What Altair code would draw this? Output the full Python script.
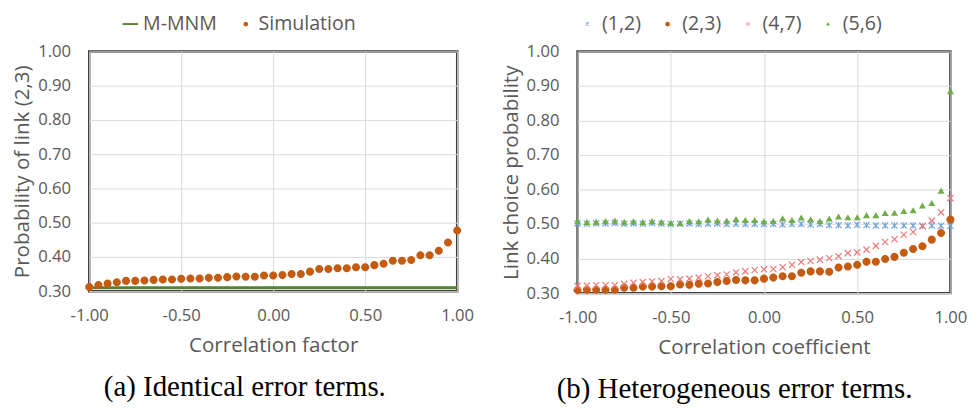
import math
import altair as alt
import pandas as pd

# ---------------- data ----------------
rho = [-1.00, -0.95, -0.90, -0.85, -0.80, -0.75, -0.70, -0.65, -0.60, -0.55,
       -0.50, -0.45, -0.40, -0.35, -0.30, -0.25, -0.20, -0.15, -0.10, -0.05,
       0.00, 0.05, 0.10, 0.15, 0.20, 0.25, 0.30, 0.35, 0.40, 0.45,
       0.50, 0.55, 0.60, 0.65, 0.70, 0.75, 0.80, 0.85, 0.90, 0.95, 1.00]

sim_23 = [0.312, 0.318, 0.322, 0.326, 0.330, 0.330, 0.331, 0.333, 0.334, 0.334,
          0.336, 0.337, 0.337, 0.339, 0.339, 0.341, 0.343, 0.342, 0.342, 0.346,
          0.346, 0.347, 0.350, 0.350, 0.357, 0.365, 0.365, 0.367, 0.367, 0.370,
          0.370, 0.376, 0.380, 0.389, 0.389, 0.391, 0.405, 0.405, 0.418, 0.442, 0.477]

mmnm_x = [-1.00, 1.00]
mmnm_y = [0.31, 0.31]

het_12 = [0.502, 0.501, 0.502, 0.502, 0.503, 0.501, 0.502, 0.501, 0.503, 0.501,
          0.500, 0.501, 0.502, 0.500, 0.501, 0.502, 0.500, 0.501, 0.500, 0.500,
          0.500, 0.500, 0.499, 0.500, 0.500, 0.499, 0.500, 0.497, 0.497, 0.496,
          0.498, 0.497, 0.496, 0.496, 0.496, 0.496, 0.496, 0.495, 0.496, 0.495, 0.495]
het_23 = [0.309, 0.310, 0.310, 0.310, 0.310, 0.316, 0.316, 0.319, 0.319, 0.320,
          0.320, 0.325, 0.324, 0.327, 0.328, 0.332, 0.335, 0.338, 0.337, 0.337,
          0.342, 0.345, 0.349, 0.349, 0.359, 0.363, 0.363, 0.362, 0.374, 0.377,
          0.382, 0.391, 0.391, 0.399, 0.405, 0.417, 0.428, 0.436, 0.455, 0.474, 0.513]
het_47 = [0.321, 0.322, 0.323, 0.323, 0.323, 0.327, 0.330, 0.332, 0.334, 0.335,
          0.341, 0.340, 0.342, 0.345, 0.349, 0.352, 0.354, 0.360, 0.363, 0.367,
          0.369, 0.370, 0.375, 0.382, 0.390, 0.393, 0.397, 0.401, 0.407, 0.416,
          0.418, 0.426, 0.437, 0.448, 0.456, 0.469, 0.477, 0.494, 0.510, 0.534, 0.575]
het_56 = [0.507, 0.505, 0.506, 0.508, 0.509, 0.506, 0.507, 0.505, 0.508, 0.506,
          0.503, 0.502, 0.508, 0.507, 0.512, 0.509, 0.509, 0.514, 0.511, 0.511,
          0.507, 0.508, 0.516, 0.511, 0.518, 0.513, 0.508, 0.515, 0.521, 0.519,
          0.519, 0.525, 0.525, 0.531, 0.532, 0.537, 0.539, 0.553, 0.560, 0.596, 0.884]

left_series = ["M-MNM", "Simulation"]
right_series = ["(1,2)", "(2,3)", "(4,7)", "(5,6)"]

y_ticks = [0.30, 0.40, 0.50, 0.60, 0.70, 0.80, 0.90, 1.00]
x_ticks = [-1.00, -0.50, 0.00, 0.50, 1.00]

# ---------------- styles ----------------
ORANGE = "#C55A11"
GREEN_LINE = "#548235"
GREEN_TRI = "#70AD47"
BLUE = "#6FA3D8"
RED = "#EE7B7B"
GRAY_TXT = "#595959"
SANS = "Open Sans"


def seg_path(segs, t):
    parts = []
    for (x1, y1), (x2, y2) in segs:
        dx, dy = x2 - x1, y2 - y1
        L = math.hypot(dx, dy)
        nx, ny = -dy / L * t, dx / L * t
        pts = [(x1 + nx, y1 + ny), (x2 + nx, y2 + ny), (x2 - nx, y2 - ny), (x1 - nx, y1 - ny)]
        parts.append("M" + "L".join(f"{px:.3f},{py:.3f}" for px, py in pts) + "Z")
    return "".join(parts)


CIRCLE = "M0.3,0A0.3,0.3,0,1,1,-0.3,0A0.3,0.3,0,1,1,0.3,0Z"
LINE = "M-1,-0.12H1V0.12H-1Z"
TRI = "M0,-0.25L0.26,0.2L-0.26,0.2Z"
a = 0.23
XSHAPE = seg_path([((-a, -a), (a, a)), ((-a, a), (a, -a))], 0.045)
ASTER = seg_path([((-a, -a), (a, a)), ((-a, a), (a, -a)), ((0, -a), (0, a))], 0.04)

PT_SIZE = 760
LEG_SYM = 256

left_df = pd.DataFrame({"rho": rho, "p": sim_23, "series": "Simulation"})
line_df = pd.DataFrame({"rho": mmnm_x, "p": mmnm_y})
rows = []
for name, vals in zip(right_series, [het_12, het_23, het_47, het_56]):
    for r, v in zip(rho, vals):
        rows.append({"rho": r, "p": v, "series": name})
right_df = pd.DataFrame(rows)

label_expr = "datum.value < 0 ? '-' + format(-datum.value, '.2f') : format(datum.value, '.2f')"


def x_enc(title):
    return alt.X("rho:Q", scale=alt.Scale(domain=[-1, 1], nice=False, padding=0),
                 axis=alt.Axis(values=x_ticks, labelExpr=label_expr, title=title,
                               labelFlush=False, titlePadding=12, labelPadding=17))


def y_enc(title):
    return alt.Y("p:Q", scale=alt.Scale(domain=[0.3, 1.0], nice=False, zero=False, padding=0),
                 axis=alt.Axis(values=y_ticks, format=".2f", title=title,
                               labelFlush=False, titlePadding=5, labelPadding=19))


W1, H1 = 376, 245
W2, H2 = 381, 247


def legend(x, off, colpad):
    return alt.Legend(title=None, orient="none", legendX=x, legendY=-38,
                      direction="horizontal", symbolSize=LEG_SYM,
                      labelOffset=off, columnPadding=colpad)


line_layer = alt.Chart(line_df).mark_line(color=GREEN_LINE, strokeWidth=3).encode(
    x=x_enc("Correlation factor"), y=y_enc("Probability of link (2,3)"))

sim_layer = alt.Chart(left_df).mark_point(filled=True, opacity=1, size=PT_SIZE, strokeWidth=0).encode(
    x=x_enc("Correlation factor"), y=y_enc("Probability of link (2,3)"),
    color=alt.Color("series:N", scale=alt.Scale(domain=left_series, range=[GREEN_LINE, ORANGE]),
                    legend=legend(32, 3, 19)),
    shape=alt.Shape("series:N", scale=alt.Scale(domain=left_series, range=[LINE, CIRCLE]),
                    legend=legend(32, 3, 19)),
)

left = alt.layer(line_layer, sim_layer).properties(
    width=W1, height=H1,
    title=alt.TitleParams("(a) Identical error terms.", orient="bottom", font="Liberation Serif",
                          fontSize=29.5, fontWeight="normal", color="black", offset=18, dx=-29))

right_pts = alt.Chart(right_df).mark_point(filled=True, opacity=1, size=PT_SIZE, strokeWidth=0).encode(
    x=x_enc("Correlation coefficient"), y=y_enc("Link choice probability"),
    color=alt.Color("series:N", scale=alt.Scale(domain=right_series, range=[BLUE, ORANGE, RED, GREEN_TRI]),
                    legend=legend(0, 5, 17)),
    shape=alt.Shape("series:N", scale=alt.Scale(domain=right_series, range=[ASTER, CIRCLE, XSHAPE, TRI]),
                    legend=legend(0, 5, 17)),
    order=alt.Order("series:N"),
)

right = alt.layer(right_pts).properties(
    width=W2, height=H2,
    title=alt.TitleParams("(b) Heterogeneous error terms.", orient="bottom", font="Liberation Serif",
                          fontSize=29.5, fontWeight="normal", color="black", offset=18, dx=-30))

chart = alt.hconcat(left, right, spacing=24).resolve_scale(color="independent", shape="independent").properties(
    padding={"left": 3, "top": 0, "right": 0, "bottom": 0}
).configure_view(
    stroke="#404040", strokeWidth=2.5
).configure_axis(
    domain=False, ticks=False, grid=True, gridColor="#d9d9d9", gridWidth=1,
    labelFont=SANS, labelFontSize=17, labelColor=GRAY_TXT,
    titleFont=SANS, titleFontSize=21, titleColor=GRAY_TXT, titleFontWeight="normal"
).configure_legend(
    labelFont=SANS, labelFontSize=20, labelColor=GRAY_TXT, symbolStrokeWidth=0
)

chart.save("out.html", embed_options={"renderer": "svg", "actions": False})
